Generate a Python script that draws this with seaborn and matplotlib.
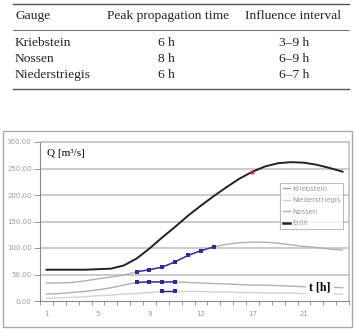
import numpy as np
import pandas as pd
import matplotlib
matplotlib.use("Agg")
import matplotlib.pyplot as plt
from matplotlib.lines import Line2D
from matplotlib.patches import Rectangle
import seaborn as sns

# ---------- table ----------
table_cols = ["Gauge", "Peak propagation time", "Influence interval"]
gauges = ["Kriebstein", "Nossen", "Niederstriegis"]
peak_times = ["6 h", "8 h", "6 h"]
intervals = ["3\u20139 h", "6\u20139 h", "6\u20137 h"]

# ---------- hydrograph data ----------
hours = list(range(1, 25))
erlln = [59, 59, 59, 59, 60, 61, 67, 80, 99, 120, 140, 161, 180, 198,
         215, 231, 244, 254, 260, 262, 261, 257, 251, 244]
nossen = [34, 34, 35, 38, 42, 45, 49, 55, 59, 64, 74, 86, 95, 102,
          107, 110, 111, 111, 109, 106, 103, 101, 98, 96]
kriebstein = [13, 14, 16, 18, 21, 25, 30, 35, 36, 36, 36, 35, 34, 33,
              32, 31, 30, 30, 29, 28, 27, 26, 26, 25]
niederstriegis = [5, 6, 7, 8, 10, 11, 13, 14, 16, 18, 18, 18, 18, 17,
                  17, 16, 16, 15, 15, 15, 14, 14, 14, 13]

# influence windows highlighted in blue (hours)
nossen_win = [8, 14]
kriebstein_win = [8, 11]
nieder_win = [10, 11]
peak_hour = 17

W, H = 355, 332
fig = plt.figure(figsize=(W / 100, H / 100), dpi=100)
serif = "Liberation Serif"

# ---------- 1. TABLE ----------
def fx(px): return px / W
def fy(py): return 1 - py / H

for y, lw in [(4, 1.0), (29.5, 0.6), (88.5, 1.0)]:
    fig.add_artist(Line2D([fx(13), fx(349)], [fy(y), fy(y)], color="#555555", lw=lw))

fig.text(fx(15), fy(16), table_cols[0], family=serif, fontsize=9.7, va="center", ha="left", color="#222222")
fig.text(fx(168), fy(16), table_cols[1], family=serif, fontsize=9.7, va="center", ha="center", color="#222222")
fig.text(fx(293), fy(16), table_cols[2], family=serif, fontsize=9.7, va="center", ha="center", color="#222222")
for i, ypx in enumerate([42.5, 59, 75]):
    fig.text(fx(15), fy(ypx), gauges[i], family=serif, fontsize=9.7, va="center", ha="left", color="#222222")
    fig.text(fx(166), fy(ypx), peak_times[i], family=serif, fontsize=9.7, va="center", ha="center", color="#222222")
    fig.text(fx(294), fy(ypx), intervals[i], family=serif, fontsize=9.7, va="center", ha="center", color="#222222")

# ---------- 2. CHART ----------
fig.add_artist(Rectangle((fx(3), fy(327)), fx(352) - fx(3), fy(131) - fy(327),
                         fill=False, edgecolor="#aaaaaa", lw=1.0))

ax = fig.add_axes([fx(40), fy(301), fx(349) - fx(40), fy(142) - fy(301)])

df = pd.DataFrame({"hour": hours, "Erlln": erlln, "Nossen": nossen,
                   "Kriebstein": kriebstein, "Niederstriegis": niederstriegis})

for v in [50, 100, 150, 200, 250]:
    ax.axhline(v, color="#bdbdbd", lw=1.1, zorder=0)

sns.lineplot(data=df, x="hour", y="Niederstriegis", color="#d2d2d2", lw=1.0, ax=ax)
sns.lineplot(data=df, x="hour", y="Kriebstein", color="#b0b0b0", lw=1.0, ax=ax)
sns.lineplot(data=df, x="hour", y="Nossen", color="#b0b0b0", lw=1.0, ax=ax)
sns.lineplot(data=df, x="hour", y="Erlln", color="#222222", lw=1.4, ax=ax)

blue = "#2b2ba0"
for col, (a, b) in [("Nossen", nossen_win), ("Kriebstein", kriebstein_win),
                    ("Niederstriegis", nieder_win)]:
    sub = df[(df["hour"] >= a) & (df["hour"] <= b)]
    sns.lineplot(data=sub, x="hour", y=col, color=blue, lw=1.0, marker="s",
                 markersize=2.8, markeredgewidth=0, ax=ax)

pk = df[df["hour"] == peak_hour]
sns.scatterplot(data=pk, x="hour", y="Erlln", color="#e02020", s=8, linewidth=0, ax=ax, zorder=5)

ax.set_xlim(0.5, 24.5)
ax.set_ylim(0, 300)
ax.set_xlabel("")
ax.set_ylabel("")
ax.set_xticks([1, 5, 9, 13, 17, 21])
ax.set_xticklabels(["1", "5", "9", "13", "17", "21"])
ax.set_xticks(np.arange(0.5, 25, 1), minor=True)
ax.tick_params(axis="x", which="major", length=0, pad=7, labelsize=5, labelcolor="#999999")
ax.tick_params(axis="x", which="minor", length=3, width=0.6, color="#888888", direction="out")
ax.set_yticks([0, 50, 100, 150, 200, 250, 300])
ax.set_yticklabels([f"{v:.2f}" for v in [0, 50, 100, 150, 200, 250, 300]])
ax.tick_params(axis="y", length=4, width=0.6, color="#888888", labelsize=5,
               labelcolor="#999999", pad=2)
for s in ["left", "bottom"]:
    ax.spines[s].set_color("#888888")
    ax.spines[s].set_linewidth(0.8)
for s in ["top", "right"]:
    ax.spines[s].set_color("#bdbdbd")
    ax.spines[s].set_linewidth(1.1)

ax.text(0.022, 0.93, "Q [m\u00b3/s]", transform=ax.transAxes, family=serif,
        fontsize=8, va="center", ha="left")
ax.text(21.4, 25, "t [h]", family=serif, fontsize=8.5, fontweight="bold",
        va="center", ha="left", zorder=6,
        bbox=dict(facecolor="white", edgecolor="none", pad=2.5))

handles = [Line2D([], [], color="#a0a0a0", lw=1.0),
           Line2D([], [], color="#d2d2d2", lw=1.0),
           Line2D([], [], color="#b0b0b0", lw=1.0),
           Line2D([], [], color="#222222", lw=1.8)]
leg = ax.legend(handles, ["Kriebstein", "Niederstriegis", "Nossen", "Erlln"],
                loc="upper left", bbox_to_anchor=((280 - 40) / 309, (301 - 183) / 159),
                fontsize=5, frameon=True, fancybox=False, handlelength=1.0,
                handletextpad=0.35, borderpad=0.4, labelspacing=0.8, borderaxespad=0)
leg.get_frame().set_edgecolor("#aaaaaa")
leg.get_frame().set_linewidth(0.8)
for t in leg.get_texts():
    t.set_color("#999999")

fig.savefig("out.png", dpi=100)
